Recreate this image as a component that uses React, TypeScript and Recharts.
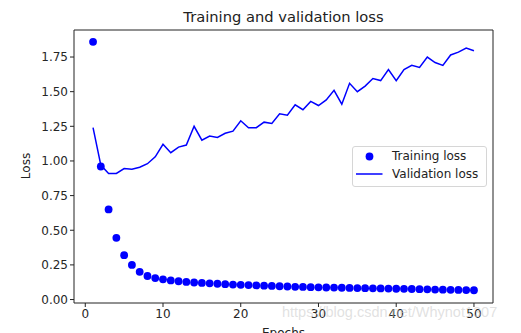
import {
  ComposedChart,
  Legend,
  Line,
  ReferenceArea,
  Scatter,
  XAxis,
  YAxis,
} from "recharts";

const epochs = Array.from({ length: 50 }, (_, i) => i + 1);

const trainingLoss = [
  1.86, 0.96, 0.65, 0.445, 0.32, 0.25, 0.2, 0.17, 0.155, 0.146,
  0.138, 0.132, 0.127, 0.123, 0.12, 0.117, 0.114, 0.111, 0.108, 0.106,
  0.104, 0.102, 0.1, 0.098, 0.096, 0.094, 0.092, 0.091, 0.089, 0.088,
  0.087, 0.086, 0.085, 0.084, 0.083, 0.082, 0.081, 0.08, 0.079, 0.078,
  0.077, 0.076, 0.075, 0.074, 0.072, 0.071, 0.07, 0.069, 0.068, 0.067,
];

const validationLoss = [
  1.24, 0.97, 0.91, 0.91, 0.945, 0.94, 0.955, 0.98, 1.03, 1.12,
  1.06, 1.1, 1.115, 1.25, 1.15, 1.18, 1.17, 1.2, 1.215, 1.29,
  1.24, 1.24, 1.28, 1.27, 1.34, 1.33, 1.405, 1.37, 1.43, 1.4,
  1.44, 1.51, 1.41, 1.56, 1.5, 1.54, 1.595, 1.58, 1.66, 1.58,
  1.66, 1.69, 1.675, 1.75, 1.71, 1.69, 1.765, 1.785, 1.815, 1.795,
];

const xTicks = [0, 10, 20, 30, 40, 50];
const yTicks = [0, 0.25, 0.5, 0.75, 1, 1.25, 1.5, 1.75];

const X_DOMAIN: [number, number] = [-1.45, 52.45];
const Y_DOMAIN: [number, number] = [-0.025, 1.945];

const FONT = "'DejaVu Sans', sans-serif";
const BLUE = "#0000ff";

const data = epochs.map((e, i) => ({
  epoch: e,
  train: trainingLoss[i],
  val: validationLoss[i],
}));

function Dot(props: any) {
  const { cx, cy } = props;
  if (cx == null || cy == null) return null;
  return <circle cx={cx} cy={cy} r={3.9} fill={BLUE} />;
}

function LegendBox() {
  return (
    <div
      style={{
        width: 133,
        height: 39,
        border: "1px solid #d6d6d6",
        borderRadius: 3,
        background: "rgba(255,255,255,0.8)",
        fontFamily: FONT,
        fontSize: 12,
        color: "#222",
        position: "relative",
      }}
    >
      <svg width={40} height={39} style={{ position: "absolute", left: 0, top: 0 }}>
        <circle cx={16.5} cy={9.5} r={3.9} fill={BLUE} />
        <line x1={3} x2={29.5} y1={27} y2={27} stroke={BLUE} strokeWidth={1.5} />
      </svg>
      <div style={{ position: "absolute", left: 39, top: 2, lineHeight: "15px" }}>
        Training loss
      </div>
      <div style={{ position: "absolute", left: 39, top: 20, lineHeight: "15px" }}>
        Validation loss
      </div>
    </div>
  );
}

export default function App() {
  const tickStyle = { fontSize: 12, fill: "#262626", fontFamily: FONT };
  return (
    <div style={{ position: "absolute", left: 0, top: 0, width: 521, height: 333, background: "#fff", overflow: "hidden" }}>
      <div
        style={{
          position: "absolute",
          left: 74,
          width: 419,
          top: 8,
          textAlign: "center",
          fontFamily: FONT,
          fontSize: 14.7,
          lineHeight: "17px",
          color: "#222",
        }}
      >
        Training and validation loss
      </div>
      <div
        style={{
          position: "absolute",
          left: 26,
          top: 166,
          transform: "translate(-50%, -50%) rotate(-90deg)",
          fontFamily: FONT,
          fontSize: 12,
          color: "#222",
          whiteSpace: "nowrap",
        }}
      >
        Loss
      </div>
      <div
        style={{
          position: "absolute",
          left: 74,
          width: 419,
          top: 326,
          textAlign: "center",
          fontFamily: FONT,
          fontSize: 12,
          lineHeight: "15px",
          color: "#222",
        }}
      >
        Epochs
      </div>
      <ComposedChart
        width={521}
        height={333}
        data={data}
        margin={{ top: 30, right: 28, bottom: 0, left: 0 }}
      >
        <XAxis
          dataKey="epoch"
          type="number"
          domain={X_DOMAIN}
          ticks={xTicks}
          allowDataOverflow
          height={30}
          tick={tickStyle}
          tickSize={4}
          tickLine={{ stroke: "#222" }}
          axisLine={false}
        />
        <YAxis
          type="number"
          domain={Y_DOMAIN}
          ticks={yTicks}
          allowDataOverflow
          width={74}
          tick={tickStyle}
          tickSize={4}
          tickLine={{ stroke: "#222" }}
          axisLine={false}
          tickFormatter={(v) => (v as number).toFixed(2)}
        />
        <Line
          dataKey="val"
          name="Validation loss"
          stroke={BLUE}
          strokeWidth={1.5}
          dot={false}
          activeDot={false}
          isAnimationActive={false}
        />
        <Scatter
          dataKey="train"
          name="Training loss"
          fill={BLUE}
          shape={<Dot />}
          isAnimationActive={false}
        />
        <ReferenceArea
          x1={X_DOMAIN[0]}
          x2={X_DOMAIN[1]}
          y1={Y_DOMAIN[0]}
          y2={Y_DOMAIN[1]}
          stroke="#222"
          strokeWidth={1}
          fill="none"
          ifOverflow="visible"
        />
        <Legend
          layout="vertical"
          align="center"
          verticalAlign="middle"
          content={() => <LegendBox />}
          wrapperStyle={{ top: 146, left: 352, width: 135 }}
        />
      </ComposedChart>
      <div
        style={{
          position: "absolute",
          left: 282,
          top: 304,
          fontFamily: "'Liberation Sans', Arial, sans-serif",
          fontSize: 14.5,
          color: "rgba(200,200,200,0.55)",
          whiteSpace: "nowrap",
          pointerEvents: "none",
        }}
      >
        https://blog.csdn.net/Whynot1307
      </div>
    </div>
  );
}
